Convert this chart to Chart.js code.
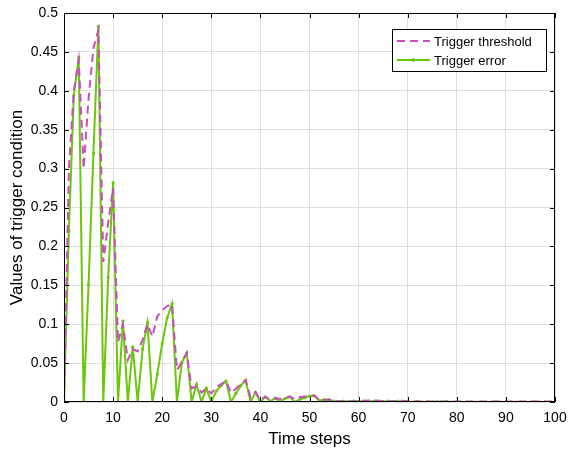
<!DOCTYPE html>
<html>
<head>
<meta charset="utf-8">
<script src="https://cdn.jsdelivr.net/npm/chart.js@4.4.1/dist/chart.umd.min.js"></script>
<style>
  html, body { margin: 0; padding: 0; background: #fff; }
  #wrap { width: 569px; height: 450px; }
</style>
</head>
<body>
<div id="wrap"><canvas id="chart" width="569" height="450"></canvas></div>
<script>
// --- data ---
const timeSteps = Array.from({ length: 101 }, (_, i) => i);

const triggerThreshold = [
  0, 0.30, 0.40, 0.44, 0.30, 0.39, 0.455, 0.478, 0.18, 0.23,
  0.275, 0.077, 0.10, 0.054, 0.068, 0.065, 0.08, 0.10, 0.084, 0.11,
  0.118, 0.123, 0.126, 0.041, 0.051, 0.063, 0.0176, 0.02, 0.012, 0.0176,
  0.011, 0.019, 0.023, 0.027, 0.012, 0.017, 0.023, 0.028, 0.006, 0.0125,
  0.003, 0.0067, 0.003, 0.005, 0.004, 0.005, 0.007, 0.004, 0.006, 0.007,
  0.008, 0.008, 0.003, 0.003, 0.003, 0.001, 0.001, 0.001, 0.001, 0.001,
  0.001, 0.0015, 0.002, 0.002, 0.0015, 0.001, 0.001, 0.001, 0.0015, 0.0015,
  0.001, 0.001, 0.0005, 0.0005, 0.0005, 0.0005, 0.0005, 0.0005, 0.0005, 0.0005,
  0.0005, 0.0005, 0.0005, 0.0005, 0.0005, 0.0005, 0.0005, 0.0005, 0.0005, 0.0005,
  0.0005, 0.0005, 0.0005, 0.0005, 0.0005, 0.0005, 0.0005, 0.0005, 0.0005, 0.0005,
  0.0005
];

const triggerError = [
  0, 0.22, 0.394, 0.443, 0, 0.151, 0.32, 0.483, 0, 0.16,
  0.282, 0, 0.104, 0, 0.071, 0, 0.068, 0.102, 0, 0.036,
  0.075, 0.108, 0.126, 0, 0.051, 0.063, 0, 0.0227, 0, 0.0176,
  0, 0.014, 0.021, 0.027, 0, 0.011, 0.021, 0.028, 0, 0.0125,
  0, 0.0067, 0.001, 0.005, 0, 0.0045, 0.0067, 0, 0.003, 0.0055,
  0.0077, 0.008, 0.002, 0.003, 0.003, 0.001, 0.0005, 0.001, 0.0005, 0.001,
  0.0005, 0.001, 0.0005, 0.001, 0.001, 0.0005, 0.001, 0.0005, 0.001, 0.0005,
  0.0005, 0, 0.0005, 0, 0.0005, 0, 0.0005, 0, 0.0005, 0,
  0, 0, 0, 0, 0, 0, 0, 0, 0, 0,
  0, 0, 0, 0, 0, 0, 0, 0, 0, 0,
  0
];

const seriesNames = ['Trigger threshold', 'Trigger error'];
const xTitle = 'Time steps';
const yTitle = 'Values of trigger condition';

const colThreshold = '#C94DBF';
const colError = '#6BC70A';
const FONT = 'Arial, "Liberation Sans", sans-serif';

const toXY = (arr) => timeSteps.map((t, i) => ({ x: t, y: arr[i] }));

// 内向きの目盛と外枠 (MATLAB風) + 凡例
const boxPlugin = {
  id: 'boxPlugin',
  afterDraw(chart) {
    const { ctx, chartArea: a, scales } = chart;
    ctx.save();
    ctx.strokeStyle = '#000';
    ctx.lineWidth = 1;
    ctx.strokeRect(a.left + 0.5, a.top + 0.5, a.right - a.left - 1, a.bottom - a.top - 1);
    const len = 5;
    ctx.beginPath();
    scales.x.ticks.forEach(t => {
      const px = Math.round(scales.x.getPixelForValue(t.value)) + 0.5;
      ctx.moveTo(px, a.bottom); ctx.lineTo(px, a.bottom - len);
      ctx.moveTo(px, a.top); ctx.lineTo(px, a.top + len);
    });
    scales.y.ticks.forEach(t => {
      const py = Math.round(scales.y.getPixelForValue(t.value)) + 0.5;
      ctx.moveTo(a.left, py); ctx.lineTo(a.left + len, py);
      ctx.moveTo(a.right, py); ctx.lineTo(a.right - len, py);
    });
    ctx.stroke();

    // legend box
    const lx = 392, ly = 29, lw = 154, lh = 42;
    ctx.fillStyle = '#fff';
    ctx.fillRect(lx, ly, lw, lh);
    ctx.strokeRect(lx + 0.5, ly + 0.5, lw, lh);
    ctx.font = '13px ' + FONT;
    ctx.textBaseline = 'middle';
    ctx.fillStyle = '#000';

    const y1 = 41, y2 = 60;
    ctx.strokeStyle = colThreshold;
    ctx.lineWidth = 2;
    ctx.setLineDash([8, 5]);
    ctx.beginPath(); ctx.moveTo(397, y1); ctx.lineTo(430, y1); ctx.stroke();
    ctx.setLineDash([]);
    ctx.fillText(seriesNames[0], 434, y1 + 1);

    ctx.strokeStyle = colError;
    ctx.beginPath(); ctx.moveTo(397, y2); ctx.lineTo(430, y2); ctx.stroke();
    ctx.fillStyle = colError;
    ctx.beginPath(); ctx.arc(413.5, y2, 1.8, 0, Math.PI * 2); ctx.fill();
    ctx.fillStyle = '#000';
    ctx.fillText(seriesNames[1], 434, y2 + 1);
    ctx.restore();
  }
};

new Chart(document.getElementById('chart'), {
  type: 'line',
  data: {
    datasets: [
      {
        label: seriesNames[0],
        data: toXY(triggerThreshold),
        borderColor: colThreshold,
        borderWidth: 2,
        borderDash: [8, 5],
        pointRadius: 0,
        tension: 0
      },
      {
        label: seriesNames[1],
        data: toXY(triggerError),
        borderColor: colError,
        backgroundColor: colError,
        borderWidth: 2,
        pointRadius: 1.6,
        pointBorderWidth: 0,
        tension: 0
      }
    ]
  },
  options: {
    responsive: false,
    animation: false,
    layout: { padding: { top: 13, right: 14, left: 0, bottom: 0 } },
    plugins: { legend: { display: false }, tooltip: { enabled: false } },
    scales: {
      x: {
        type: 'linear',
        min: 0, max: 100,
        ticks: { stepSize: 10, color: '#000', font: { family: FONT, size: 14 }, padding: 8, maxRotation: 0 },
        grid: { color: '#DFDFDF', drawTicks: false },
        border: { display: false },
        title: { display: true, text: xTitle, color: '#000', font: { family: FONT, size: 17 }, padding: { top: 4, bottom: 0 } },
        afterFit: (s) => { s.height = 48; s.paddingLeft = 0; s.paddingRight = 0; }
      },
      y: {
        min: 0, max: 0.5,
        ticks: {
          stepSize: 0.05, color: '#000', font: { family: FONT, size: 14 }, padding: 6,
          callback: (v) => String(+v.toFixed(2))
        },
        grid: { color: '#DFDFDF', drawTicks: false },
        border: { display: false },
        title: { display: true, text: yTitle, color: '#000', font: { family: FONT, size: 17 }, padding: { top: 7, bottom: 2 } },
        afterFit: (s) => { s.width = 64; s.paddingTop = 0; s.paddingBottom = 0; }
      }
    }
  },
  plugins: [boxPlugin]
});
</script>
</body>
</html>
